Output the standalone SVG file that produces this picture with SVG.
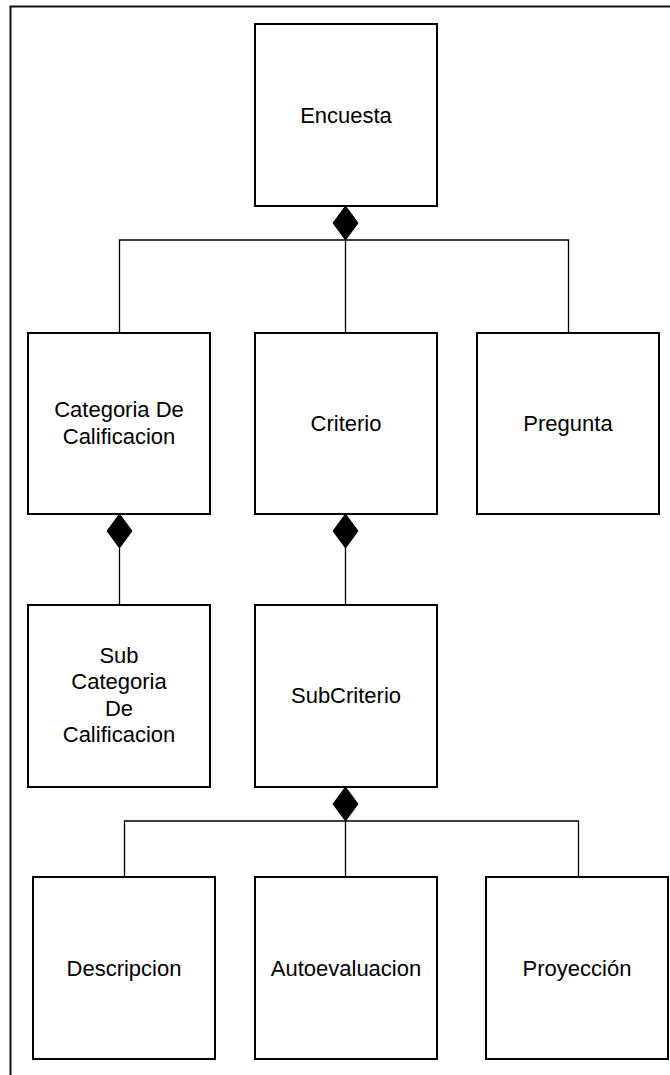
<svg xmlns="http://www.w3.org/2000/svg" width="670" height="1075" viewBox="0 0 670 1075">
<style>
.box{fill:#fff;stroke:#000;stroke-width:2}
.lbl{font-family:"Liberation Sans",Arial,sans-serif;font-size:22px;fill:#000;text-anchor:middle}
.con{fill:none;stroke:#000;stroke-width:1.3}
.dia{fill:#000;stroke:#000;stroke-width:1}
</style>
<defs>
<path id="diamond" class="dia" d="M0,0 L12.5,17 L0,34 L-12.5,17 Z"/>
</defs>
<rect width="670" height="1075" fill="#fff"/>
<path d="M10.5,1075 V6.5 H670" fill="none" stroke="#111" stroke-width="2"/>
<g id="connectors">
<path class="con" d="M345.5,240 V333 M119.5,333 V240 H568.5 V333"/>
<use href="#diamond" x="345.5" y="206"/>
<path class="con" d="M119.5,548 V605"/>
<use href="#diamond" x="119.5" y="514"/>
<path class="con" d="M345.5,548 V605"/>
<use href="#diamond" x="345.5" y="514"/>
<path class="con" d="M345.5,821 V877 M124.5,877 V821 H578.5 V877"/>
<use href="#diamond" x="345.5" y="787"/>
</g>
<g id="encuesta"><rect class="box" x="255" y="24" width="182" height="182"/><text class="lbl" x="346" y="123">Encuesta</text></g>
<g id="categoria"><rect class="box" x="28" y="333" width="182" height="181"/><text class="lbl" x="119" y="417">Categoria De</text><text class="lbl" x="119" y="444">Calificacion</text></g>
<g id="criterio"><rect class="box" x="255" y="333" width="182" height="181"/><text class="lbl" x="346" y="431">Criterio</text></g>
<g id="pregunta"><rect class="box" x="477" y="333" width="182" height="181"/><text class="lbl" x="568" y="431">Pregunta</text></g>
<g id="subcategoria"><rect class="box" x="28" y="605" width="182" height="182"/><text class="lbl" x="119" y="663">Sub</text><text class="lbl" x="119" y="689">Categoria</text><text class="lbl" x="119" y="716">De</text><text class="lbl" x="119" y="742">Calificacion</text></g>
<g id="subcriterio"><rect class="box" x="255" y="605" width="182" height="182"/><text class="lbl" x="346" y="703">SubCriterio</text></g>
<g id="descripcion"><rect class="box" x="33" y="877" width="182" height="182"/><text class="lbl" x="124" y="976">Descripcion</text></g>
<g id="autoevaluacion"><rect class="box" x="255" y="877" width="182" height="182"/><text class="lbl" x="346" y="976">Autoevaluacion</text></g>
<g id="proyeccion"><rect class="box" x="486" y="877" width="182" height="182"/><text class="lbl" x="577" y="976">Proyección</text></g>
</svg>
